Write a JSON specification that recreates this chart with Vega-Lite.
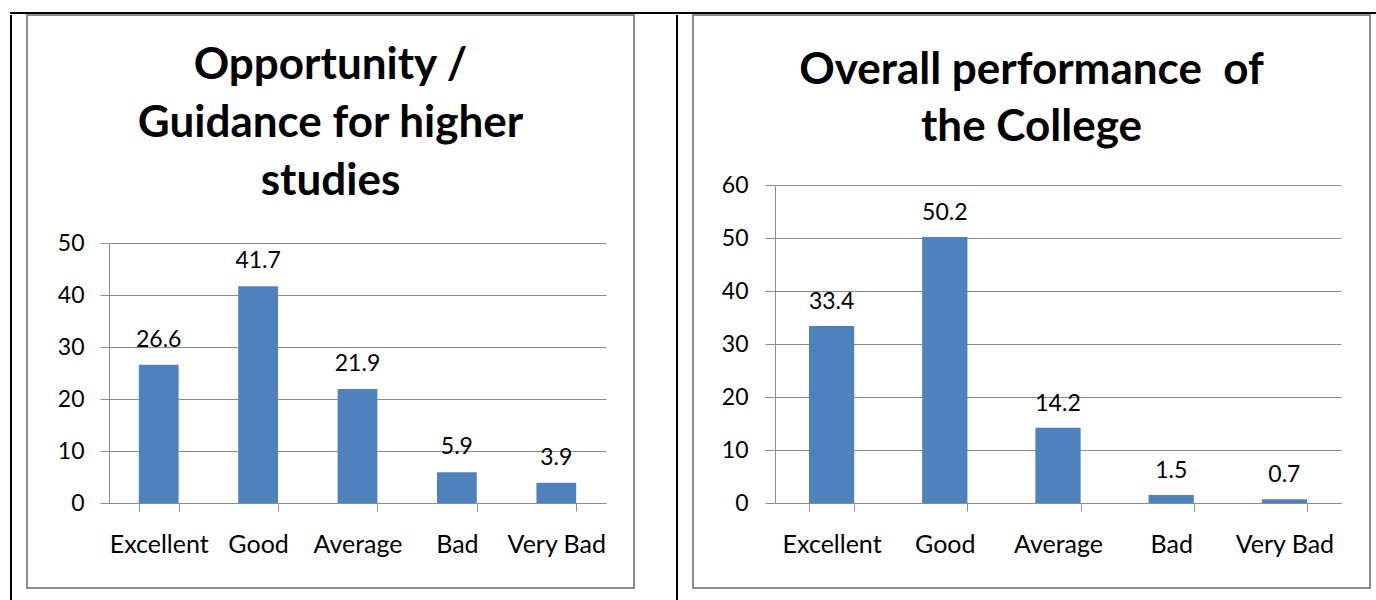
{
  "$schema": "https://vega.github.io/schema/vega-lite/v6.json",
  "padding": {"left": 10, "top": 12, "right": 0, "bottom": 0},
  "background": "white",
  "spacing": 0,
  "config": {"view": {"stroke": null}, "font": "Lato", "concat": {"spacing": 0}},
  "vconcat": [
    {
      "width": 1366, "height": 2,
      "view": {"fill": "black", "stroke": null},
      "data": {"values": []},
      "mark": "point"
    },
    {
      "spacing": 0,
      "hconcat": [
        {"width": 2, "height": 586, "view": {"fill": "black", "stroke": null}, "data": {"values": []}, "mark": "point"},
        {"width": 14, "height": 10, "data": {"values": []}, "mark": "point"},
        {
          "width": 607, "height": 573,
          "view": {"stroke": "#8c8c8c", "strokeWidth": 2, "fill": "white"},
          "title": {"text": ["Opportunity /", "Guidance for higher", "studies"], "fontSize": 44, "font": "Lato", "fontWeight": "bold", "lineHeight": 58, "baseline": "alphabetic", "offset": -224, "anchor": "middle", "color": "black"},
          "data": {"values": [
            {"rating": "Excellent", "pct": 26.6},
            {"rating": "Good", "pct": 41.7},
            {"rating": "Average", "pct": 21.9},
            {"rating": "Bad", "pct": 5.9},
            {"rating": "Very Bad", "pct": 3.9}
          ]},
          "layer": [
            {
              "mark": {"type": "bar", "color": "#4F81BD"},
              "encoding": {
                "x": {"field": "rating", "type": "nominal", "sort": null,
                  "scale": {"range": [82, 579], "paddingInner": 0.6, "paddingOuter": 0.3},
                  "axis": {"orient": "bottom", "offset": -85, "tickBand": "extent", "domainColor": "#8c8c8c", "tickColor": "#8c8c8c", "tickSize": 8, "labelPadding": 21, "labelFontSize": 25, "labelFont": "Lato", "labelColor": "black", "labelAngle": 0, "title": null, "grid": false}},
                "y": {"field": "pct", "type": "quantitative",
                  "scale": {"domain": [0, 50], "range": [488, 228], "nice": false},
                  "axis": {"orient": "left", "offset": -82, "values": [0, 10, 20, 30, 40, 50], "grid": true, "gridColor": "#8c8c8c", "domainColor": "#8c8c8c", "tickColor": "#8c8c8c", "tickSize": 9, "labelPadding": 16, "labelFontSize": 23, "labelFont": "Lato", "labelColor": "black", "title": null}}
              }
            },
            {
              "mark": {"type": "text", "dy": -18, "baseline": "alphabetic", "fontSize": 23, "font": "Lato", "color": "black"},
              "encoding": {
                "x": {"field": "rating", "type": "nominal", "sort": null},
                "y": {"field": "pct", "type": "quantitative"},
                "text": {"field": "pct", "type": "quantitative", "format": ".1f"}
              }
            }
          ]
        },
        {"width": 41, "height": 10, "data": {"values": []}, "mark": "point"},
        {"width": 2, "height": 586, "view": {"fill": "black", "stroke": null}, "data": {"values": []}, "mark": "point"},
        {"width": 14, "height": 10, "data": {"values": []}, "mark": "point"},
        {
          "width": 677, "height": 573,
          "view": {"stroke": "#8c8c8c", "strokeWidth": 2, "fill": "white"},
          "title": {"text": ["Overall performance\u00a0 of", "the College"], "fontSize": 44, "font": "Lato", "fontWeight": "bold", "lineHeight": 57, "baseline": "alphabetic", "offset": -170, "anchor": "middle", "color": "black"},
          "data": {"values": [
            {"rating": "Excellent", "pct": 33.4},
            {"rating": "Good", "pct": 50.2},
            {"rating": "Average", "pct": 14.2},
            {"rating": "Bad", "pct": 1.5},
            {"rating": "Very Bad", "pct": 0.7}
          ]},
          "layer": [
            {
              "mark": {"type": "bar", "color": "#4F81BD"},
              "encoding": {
                "x": {"field": "rating", "type": "nominal", "sort": null,
                  "scale": {"range": [82, 648], "paddingInner": 0.6, "paddingOuter": 0.3},
                  "axis": {"orient": "bottom", "offset": -85, "tickBand": "extent", "domainColor": "#8c8c8c", "tickColor": "#8c8c8c", "tickSize": 8, "labelPadding": 21, "labelFontSize": 25, "labelFont": "Lato", "labelColor": "black", "labelAngle": 0, "title": null, "grid": false}},
                "y": {"field": "pct", "type": "quantitative",
                  "scale": {"domain": [0, 60], "range": [488, 170], "nice": false},
                  "axis": {"orient": "left", "offset": -82, "values": [0, 10, 20, 30, 40, 50, 60], "grid": true, "gridColor": "#8c8c8c", "domainColor": "#8c8c8c", "tickColor": "#8c8c8c", "tickSize": 10, "labelPadding": 17, "labelFontSize": 23, "labelFont": "Lato", "labelColor": "black", "title": null}}
              }
            },
            {
              "mark": {"type": "text", "dy": -17, "baseline": "alphabetic", "fontSize": 23, "font": "Lato", "color": "black"},
              "encoding": {
                "x": {"field": "rating", "type": "nominal", "sort": null},
                "y": {"field": "pct", "type": "quantitative"},
                "text": {"field": "pct", "type": "quantitative", "format": ".1f"}
              }
            }
          ]
        }
      ]
    }
  ]
}
